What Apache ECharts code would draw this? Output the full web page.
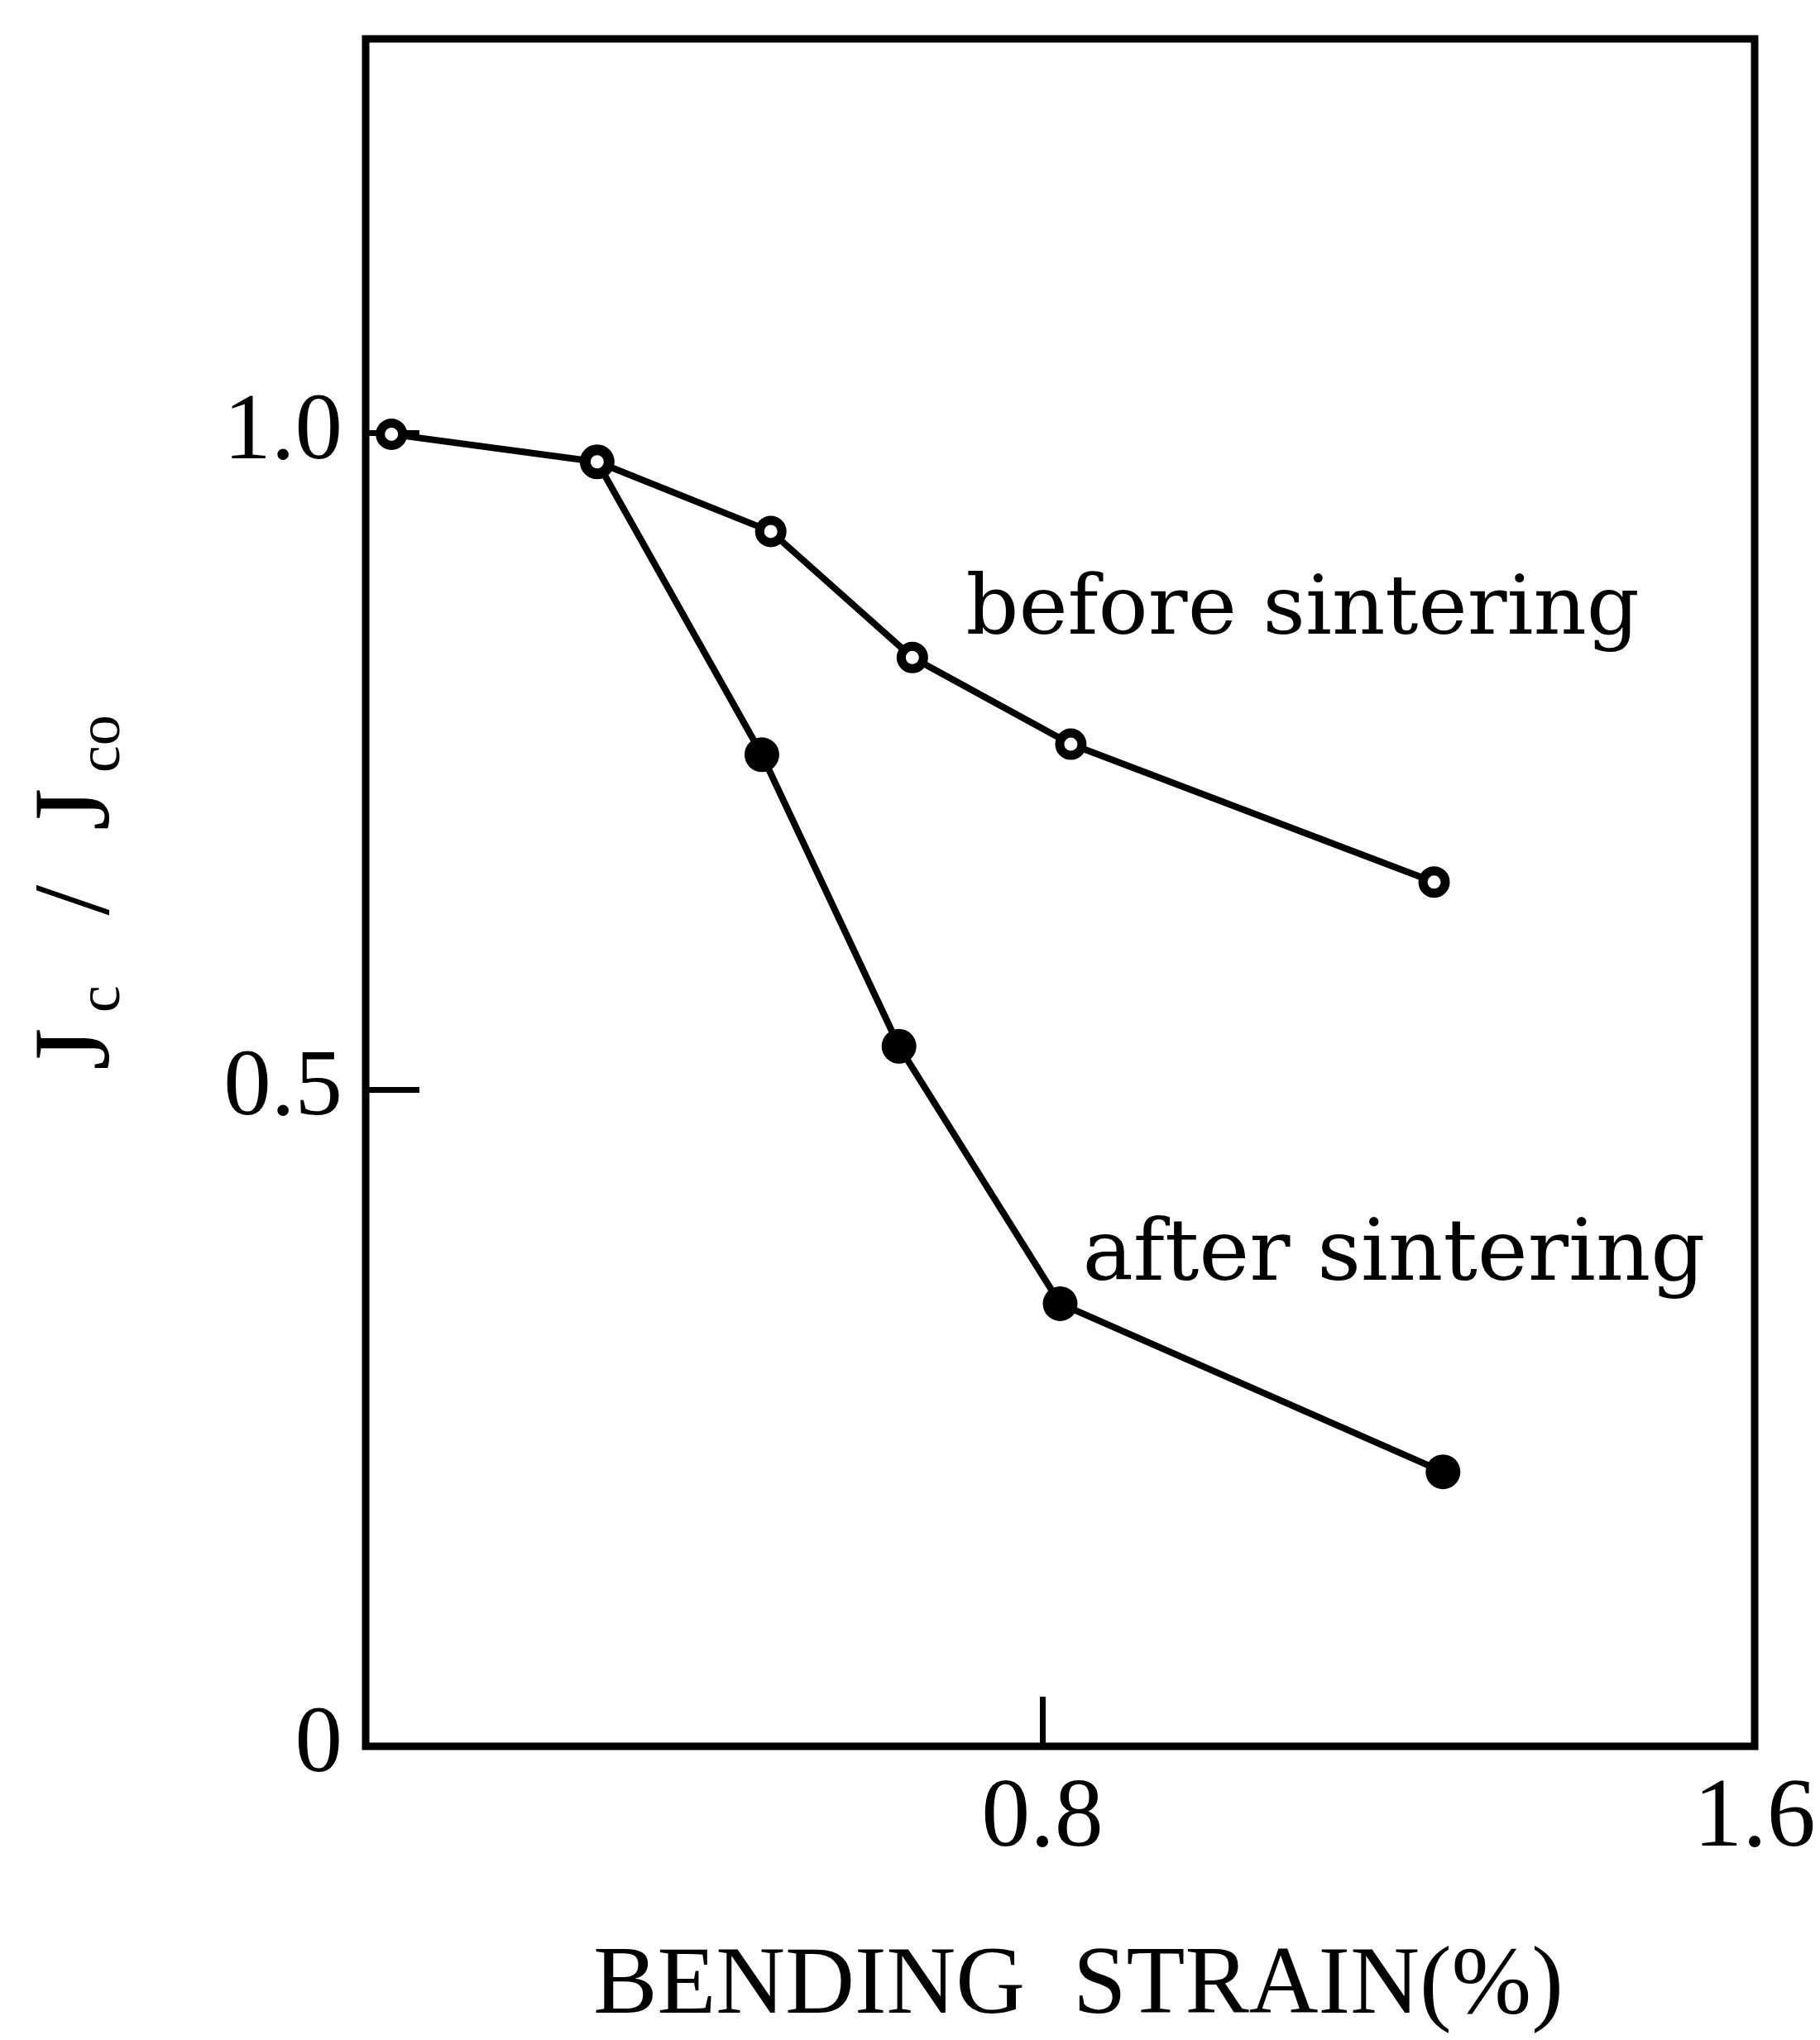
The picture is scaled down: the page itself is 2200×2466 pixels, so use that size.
<!DOCTYPE html>
<html><head><meta charset="utf-8">
<script src="https://cdn.jsdelivr.net/npm/echarts@6/dist/echarts.min.js"></script>
<style>html,body{margin:0;padding:0;background:#fff}#c{width:2200px;height:2466px}</style>
</head><body><div id="c"></div>
<script>
// Data
const beforeStrain = [0.069, 0.300, 0.495, 0.654, 0.832, 1.240];
const beforeJc     = [0.999, 0.978, 0.925, 0.829, 0.763, 0.658];
const afterStrain  = [0.300, 0.485, 0.639, 0.820, 1.250];
const afterJc      = [0.978, 0.755, 0.533, 0.337, 0.209];
const xTickValues  = [0.8];
const xLabelValues = [0.8, 1.6];
const yTickValues  = [0.5, 1.0];
const yLabelValues = [0, 0.5, 1.0];
const annotationTexts = ['before sintering', 'after sintering'];
const annotationX = [0.714, 0.845];
const annotationY = [0.8635, 0.372];
const annotationSize = [100, 103];

const chart = echarts.init(document.getElementById('c'), null, {renderer: 'canvas'});
const serif = 'Liberation Serif';
const option = {
  animation: false,
  backgroundColor: '#fff',
  grid: {left: 442, right: 79, top: 47, bottom: 348, show: true, borderColor: '#000', borderWidth: 9, backgroundColor: 'transparent'},
  xAxis: {
    type: 'value', min: 0.04, max: 1.6,
    axisLine: {show: false}, splitLine: {show: false},
    axisTick: {show: true, inside: true, length: 60, customValues: xTickValues, lineStyle: {color: '#000', width: 7}},
    axisLabel: {customValues: xLabelValues, formatter: v => v.toFixed(1), fontFamily: serif, fontSize: 118, color: '#000', margin: 30},
    name: 'BENDING  STRAIN(%)', nameLocation: 'middle', nameGap: 234,
    nameTextStyle: {fontFamily: serif, fontSize: 116, color: '#000', padding: [0, 0, 0, 44]}
  },
  yAxis: {
    type: 'value', min: 0, max: 1.3,
    axisLine: {show: false}, splitLine: {show: false},
    axisTick: {show: true, inside: true, length: 65, customValues: yTickValues, lineStyle: {color: '#000', width: 7}},
    axisLabel: {customValues: yLabelValues, formatter: v => v === 0 ? '0' : v.toFixed(1), fontFamily: serif, fontSize: 115, color: '#000', margin: 28},
    name: '{j|J}{s| c }{j|  /  }{j|J}{s| co}', nameLocation: 'middle', nameGap: 280, nameRotate: 90,
    nameTextStyle: {
      rich: {
        j: {fontFamily: serif, fontSize: 132, lineHeight: 132, color: '#000', verticalAlign: 'bottom'},
        s: {fontFamily: serif, fontSize: 74, lineHeight: 74, color: '#000', verticalAlign: 'bottom'}
      }
    }
  },
  series: [
    {
      name: 'after sintering', type: 'line', z: 2,
      data: afterStrain.map((x, i) => [x, afterJc[i]]),
      symbol: 'circle', symbolSize: 42,
      lineStyle: {color: '#000', width: 8},
      itemStyle: {color: '#000', borderColor: '#000', borderWidth: 0}
    },
    {
      name: 'before sintering', type: 'line', z: 3,
      data: beforeStrain.map((x, i) => [x, beforeJc[i]]),
      symbol: 'circle', symbolSize: 27,
      lineStyle: {color: '#000', width: 8},
      itemStyle: {color: '#fff', borderColor: '#000', borderWidth: 11}
    }
  ]
};
chart.setOption(option);

const graphics = annotationTexts.map((t, i) => {
  const p = chart.convertToPixel({gridIndex: 0}, [annotationX[i], annotationY[i]]);
  return {
    type: 'text', x: p[0], y: p[1], z: 10,
    style: {text: t, fill: '#000', font: annotationSize[i] + 'px "DejaVu Serif"', textAlign: 'left', textVerticalAlign: 'middle'}
  };
});
chart.setOption({graphic: graphics});
</script>
</body></html>
